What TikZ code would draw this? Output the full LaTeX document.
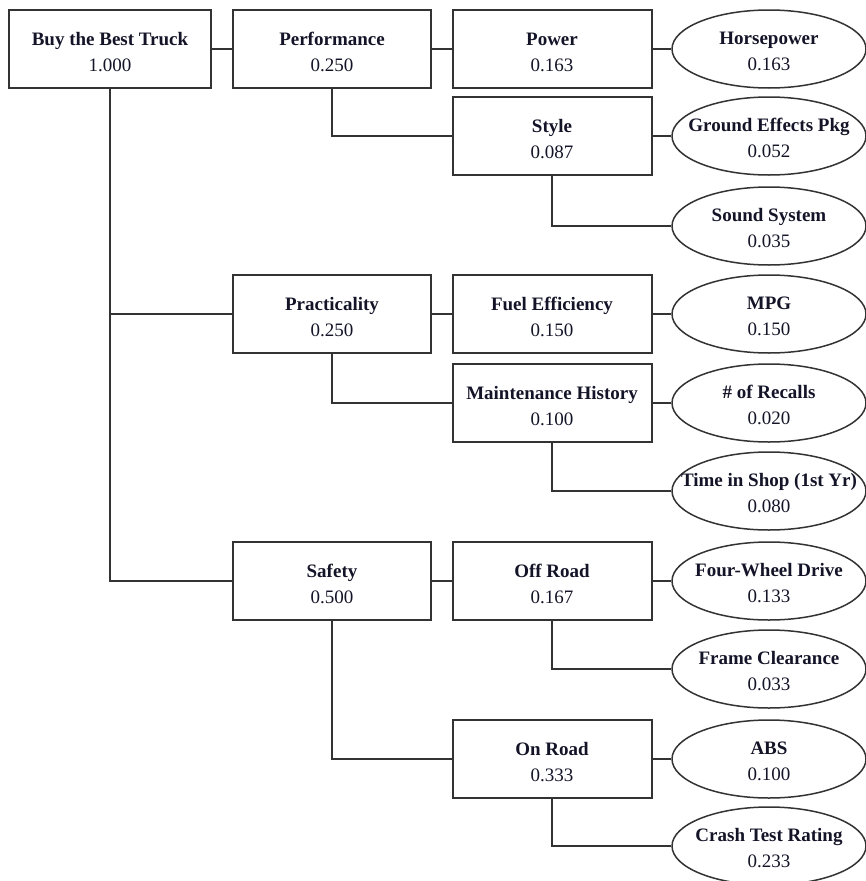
\documentclass[tikz,border=0pt]{standalone}
\usepackage{fontspec}
\setmainfont{Liberation Serif}
\usetikzlibrary{shapes.geometric}
\definecolor{ln}{HTML}{333333}
\definecolor{tx}{HTML}{141428}
\tikzset{
  box/.style={draw=ln, line width=2pt, rectangle, minimum width=199pt, minimum height=78pt, inner sep=0pt, align=center, text=tx, font=\fontsize{19}{26}\selectfont},
  oval/.style={draw=ln, line width=1.5pt, ellipse, minimum width=194pt, minimum height=78pt, inner sep=0pt, text=tx, font=\fontsize{19}{26}\selectfont},
  link/.style={draw=ln, line width=2pt}
}
\newcommand{\lab}[2]{\rule{0pt}{19pt}\textbf{#1}\\#2}
\newcommand{\olab}[2]{\makebox[0pt][c]{\raisebox{-8pt}[0pt][0pt]{\begin{tabular}{@{}c@{}}\textbf{#1}\\#2\end{tabular}}}}
\begin{document}
\begin{tikzpicture}[x=1pt,y=-1pt]
\useasboundingbox (0,0) rectangle (866,881);
% boxes
\node[box, minimum width=202pt] (root) at (110,49) {\lab{Buy the Best Truck}{1.000}};
\node[box, minimum width=198pt] (perf) at (332,49) {\lab{Performance}{0.250}};
\node[box, minimum width=198pt] (prac) at (332,314) {\lab{Practicality}{0.250}};
\node[box, minimum width=198pt] (safe) at (332,581) {\lab{Safety}{0.500}};
\node[box] (power) at (552,49) {\lab{Power}{0.163}};
\node[box] (style) at (552,136) {\lab{Style}{0.087}};
\node[box] (fuel) at (552,314) {\lab{Fuel Efficiency}{0.150}};
\node[box] (maint) at (552,403) {\lab{Maintenance History}{0.100}};
\node[box] (off) at (552,581) {\lab{Off Road}{0.167}};
\node[box] (on) at (552,759) {\lab{On Road}{0.333}};
% ellipses
\node[oval] (hp) at (769,49) {\olab{Horsepower}{0.163}};
\node[oval] (ground) at (769,136) {\olab{Ground Effects Pkg}{0.052}};
\node[oval] (sound) at (769,226) {\olab{Sound System}{0.035}};
\node[oval] (mpg) at (769,314) {\olab{MPG}{0.150}};
\node[oval] (recall) at (769,403) {\olab{\# of Recalls}{0.020}};
\node[oval] (shop) at (769,491) {\olab{Time in Shop (1st Yr)}{0.080}};
\node[oval] (fwd) at (769,581) {\olab{Four-Wheel Drive}{0.133}};
\node[oval] (frame) at (769,669) {\olab{Frame Clearance}{0.033}};
\node[oval] (abs) at (769,759) {\olab{ABS}{0.100}};
\node[oval] (crash) at (769,846) {\olab{Crash Test Rating}{0.233}};
% connectors
\draw[link] (root.east) -- (perf.west);
\draw[link] (root.south) |- (safe.west);
\draw[link] (root.south |- prac.west) -- (prac.west);
\draw[link] (perf.east) -- (power.west);
\draw[link] (perf.south) |- (style.west);
\draw[link] (power.east) -- (hp.west);
\draw[link] (style.east) -- (ground.west);
\draw[link] (style.south) |- (sound.west);
\draw[link] (prac.east) -- (fuel.west);
\draw[link] (prac.south) |- (maint.west);
\draw[link] (fuel.east) -- (mpg.west);
\draw[link] (maint.east) -- (recall.west);
\draw[link] (maint.south) |- (shop.west);
\draw[link] (safe.east) -- (off.west);
\draw[link] (safe.south) |- (on.west);
\draw[link] (off.east) -- (fwd.west);
\draw[link] (off.south) |- (frame.west);
\draw[link] (on.east) -- (abs.west);
\draw[link] (on.south) |- (crash.west);
\end{tikzpicture}
\end{document}
